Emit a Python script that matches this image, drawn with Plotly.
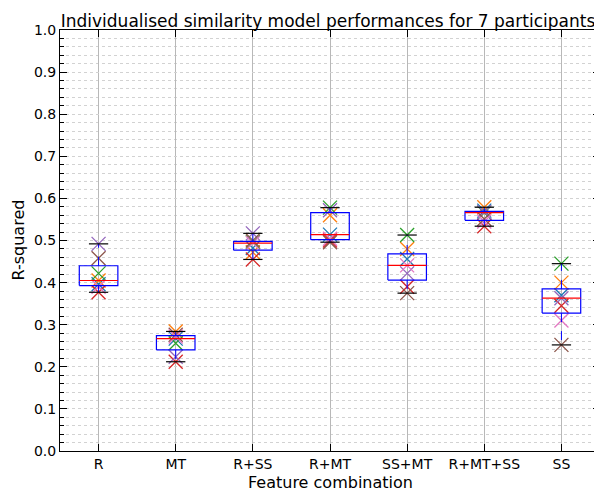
import numpy as np
import plotly.graph_objects as go

categories = ["R", "MT", "R+SS", "R+MT", "SS+MT", "R+MT+SS", "SS"]

# R-squared per participant, one value per feature combination
p1 = [0.396, 0.267, 0.482, 0.514, 0.456, 0.571, 0.370]
p2 = [0.405, 0.284, 0.472, 0.560, 0.480, 0.579, 0.400]
p3 = [0.422, 0.256, 0.496, 0.578, 0.513, 0.566, 0.445]
p4 = [0.377, 0.212, 0.455, 0.500, 0.390, 0.534, 0.345]
p5 = [0.492, 0.224, 0.517, 0.572, 0.422, 0.567, 0.363]
p6 = [0.458, 0.276, 0.500, 0.496, 0.375, 0.551, 0.252]
p7 = [0.390, 0.272, 0.494, 0.504, 0.441, 0.545, 0.310]

participants = [p1, p2, p3, p4, p5, p6, p7]
colors = ["#1f77b4", "#ff7f0e", "#2ca02c", "#d62728", "#9467bd", "#8c564b", "#e377c2"]

yticks = [0.0, 0.1, 0.2, 0.3, 0.4, 0.5, 0.6, 0.7, 0.8, 0.9, 1.0]

xpos = list(range(1, len(categories) + 1))
fig = go.Figure()

# participant markers (drawn below the boxplot, as in the reference)
for vals, col in zip(participants, colors):
    fig.add_trace(go.Scatter(
        x=xpos, y=vals, mode="markers",
        marker=dict(symbol="x-thin", size=14, line=dict(color=col, width=1.3)),
        showlegend=False, hoverinfo="y"))

# boxplot statistics computed from the data
data = np.array(participants)  # shape (7 participants, 7 categories)
hw = 0.25
bx, by, mx, my, wx, wy, cx, cy = [], [], [], [], [], [], [], []
for i, x in enumerate(xpos):
    v = np.sort(data[:, i])
    q1, med, q3 = np.percentile(v, [25, 50, 75])
    iqr = q3 - q1
    lo = v[v >= q1 - 1.5 * iqr].min()
    hi = v[v <= q3 + 1.5 * iqr].max()
    bx += [x - hw, x + hw, x + hw, x - hw, x - hw, None]
    by += [q1, q1, q3, q3, q1, None]
    mx += [x - hw, x + hw, None]
    my += [med, med, None]
    wx += [x, x, None, x, x, None]
    wy += [q3, hi, None, q1, lo, None]
    cx += [x - hw / 2, x + hw / 2, None, x - hw / 2, x + hw / 2, None]
    cy += [hi, hi, None, lo, lo, None]

fig.add_trace(go.Scatter(x=wx, y=wy, mode="lines", line=dict(color="blue", width=1, dash="dash"),
                         showlegend=False, hoverinfo="skip"))
fig.add_trace(go.Scatter(x=bx, y=by, mode="lines", line=dict(color="blue", width=1.2),
                         showlegend=False, hoverinfo="skip"))
fig.add_trace(go.Scatter(x=mx, y=my, mode="lines", line=dict(color="red", width=1.2),
                         showlegend=False, hoverinfo="skip"))
fig.add_trace(go.Scatter(x=cx, y=cy, mode="lines", line=dict(color="black", width=1.2),
                         showlegend=False, hoverinfo="skip"))

W, H = 594, 484
font = "DejaVu Sans, sans-serif"
fig.update_layout(
    width=W, height=H,
    margin=dict(l=52, r=2, t=22, b=41, autoexpand=False),
    paper_bgcolor="white", plot_bgcolor="white",
    font=dict(family=font, size=14, color="black"),
    title=dict(text="Individualised similarity model performances for 7 participants",
               x=320 / W, xref="container", xanchor="center",
               y=1 - 13 / H, yref="container", yanchor="middle", automargin=False,
               font=dict(family=font, size=17, color="black")),
    xaxis=dict(
        range=[0.5, 7.5], tickmode="array", tickvals=xpos, ticktext=categories,
        showgrid=True, gridcolor="#b8b8b8", gridwidth=1,
        showline=True, linecolor="black", linewidth=1, mirror="ticks",
        ticks="inside", ticklen=7, tickcolor="black",
        tickfont=dict(size=14), automargin=False,
        zeroline=False),
    yaxis=dict(
        range=[0, 1], tickmode="array", tickvals=yticks,
        ticktext=[f"{t:.1f}" for t in yticks],
        showgrid=True, gridcolor="#d2d2d2", gridwidth=1, griddash="dot",
        minor=dict(dtick=0.02, showgrid=True, gridcolor="#d2d2d2", griddash="dot",
                   ticks="inside", ticklen=4, tickcolor="black"),
        showline=True, linecolor="black", linewidth=1, mirror="ticks",
        ticks="inside", ticklen=7, tickcolor="black",
        tickfont=dict(size=14), automargin=False,
        zeroline=False),
    annotations=[
        dict(text="Feature combination", xref="paper", yref="paper",
             x=0.5, y=0, yshift=-31, xanchor="center", yanchor="middle",
             showarrow=False, font=dict(family=font, size=16)),
        dict(text="R-squared", xref="paper", yref="paper", x=0, xshift=-42,
             y=0.5, xanchor="center", yanchor="middle", textangle=-90,
             showarrow=False, font=dict(family=font, size=16)),
    ],
)

fig.write_html("out.html")
